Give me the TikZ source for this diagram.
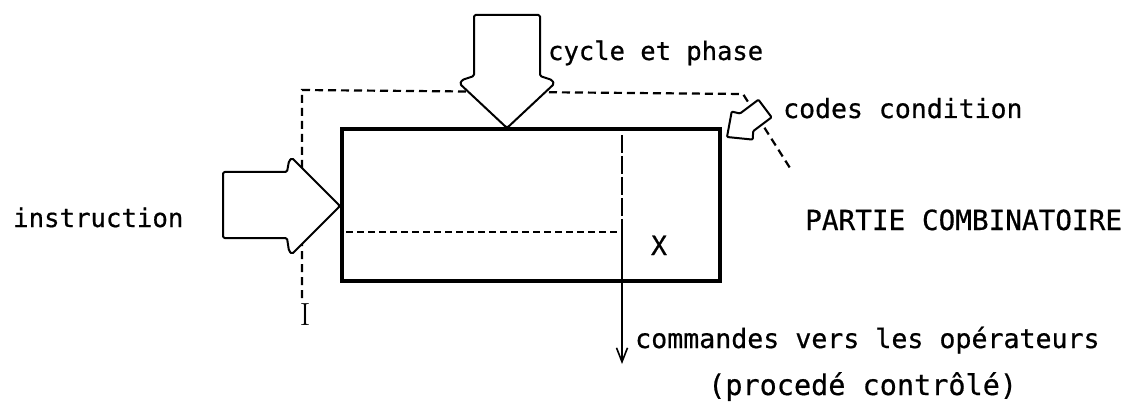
\documentclass[tikz,border=0pt]{standalone}
\usepackage{fontspec}
\setmonofont[FakeBold=0.6]{DejaVu Sans Mono}
\usetikzlibrary{arrows.meta}
\begin{document}
\begin{tikzpicture}[x=1pt,y=-1pt,
  lbl/.style={font=\ttfamily\fontsize{26.5}{30}\selectfont, inner sep=0pt, anchor=base west},
  bigarrow/.style={draw, fill=white, line width=2pt, line join=round, rounded corners=1.5pt},
  outerdash/.style={dash pattern=on 8pt off 5pt, line width=2.2pt},
  innerdash/.style={dash pattern=on 7pt off 4pt, line width=1.8pt},
  longdash/.style={dash pattern=on 18pt off 3pt, line width=1.8pt},
  flow/.style={line width=1.8pt, -{Straight Barb[length=14pt,width=11pt,line width=1.6pt]}}]
\useasboundingbox (0,0) rectangle (1124,406);
% dashed boundary of the combinational part
\coordinate (d1) at (302,298);
\coordinate (d2) at (302,90);
\coordinate (d3) at (743,94);
\coordinate (d4) at (790,168);
\draw[outerdash] (d1) -- (d2) -- (d3) -- (d4);
% top arrow: cycle et phase
\draw[bigarrow] (474,15) -- (540,15) -- (540,76) -- (552,80) -- (554,84) -- (507,128)
  -- (460,84) -- (462,80) -- (474,76) -- cycle;
% left arrow: instruction
\draw[bigarrow] (223,172) -- (287,172) -- (289,161) -- (292,158) -- (340,206)
  -- (292,254) -- (289,251) -- (287,238) -- (223,238) -- cycle;
% small arrow: codes condition
\draw[bigarrow, rounded corners=1pt] (758.4,99.7) -- (771.6,117.3) -- (753.2,131.1)
  -- (752.7,139.6) -- (727,137) -- (731.7,111.6) -- (740,113.5) -- cycle;
% main box
\node[draw, line width=3.4pt, minimum width=378pt, minimum height=152pt, inner sep=0pt] (box) at (531,205) {};
% internal lines
\coordinate (vtop) at (622,135);
\coordinate (vmid) at (622,232);
\coordinate (hleft) at (346,232);
\coordinate (vend) at (622,364);
\draw[longdash] (vtop) -- (vmid);
\draw[innerdash] (hleft) -- (vmid);
\draw[flow] (vmid) -- (vend);
% labels
\node[lbl, font=\ttfamily\fontsize{25.5}{30}\selectfont] (cyc) at (548,60) {cycle et phase};
\node[lbl] (codes) at (783,118) {codes condition};
\node[lbl, font=\ttfamily\fontsize{25.7}{30}\selectfont] (instr) at (13,227) {instruction};
\node[lbl, font=\ttfamily\fontsize{27.7}{30}\selectfont] (partie) at (805,230) {PARTIE COMBINATOIRE};
\node[lbl, anchor=base] (x) at (659,255) {X};
\node[inner sep=0pt, anchor=base, font=\fontsize{32}{34}\selectfont] (i) at (305,325) {I};
\node[lbl, font=\ttfamily\fontsize{26.6}{30}\selectfont] (cmd) at (635,348) {commandes vers les opérateurs};
\node[lbl, font=\ttfamily\fontsize{28.5}{30}\selectfont] (proc) at (708,395) {(procedé contrôlé)};
\end{tikzpicture}
\end{document}
